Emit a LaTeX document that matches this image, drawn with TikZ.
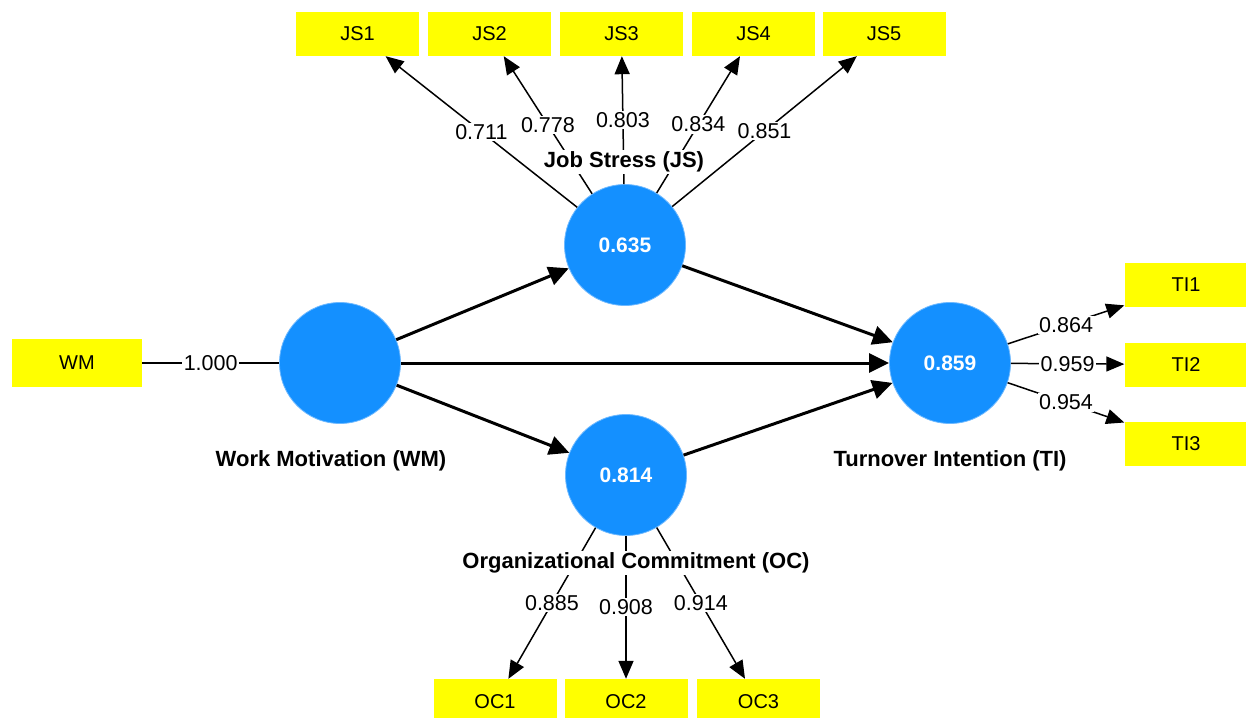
\documentclass[tikz,border=0pt]{standalone}
\usepackage{fontspec}
\setmainfont{Liberation Sans}
\usetikzlibrary{arrows.meta}
\definecolor{lvblue}{RGB}{20,144,255}
\definecolor{lvedge}{RGB}{110,185,255}
\definecolor{indyellow}{RGB}{255,255,0}
\begin{document}
\begin{tikzpicture}[x=1pt,y=-1pt,
  indbox/.style={fill=indyellow, minimum width=123pt, minimum height=44pt, inner sep=0pt, font=\fontsize{20}{22}\selectfont},
  lv/.style={circle, fill=lvblue, draw=lvedge, line width=0.8pt, minimum size=121pt, inner sep=0pt, text=white, font=\bfseries\fontsize{21}{23}\selectfont},
  cname/.style={fill=white, inner sep=1.5pt, font=\bfseries\fontsize{22}{24}\selectfont},
  coef/.style={fill=white, inner sep=1.5pt, font=\fontsize{21.5}{23}\selectfont},
  measpath/.style={line width=1.5pt, -{Triangle[length=18pt,width=15pt]}},
  plainpath/.style={line width=1.5pt},
  structpath/.style={line width=3pt, -{Triangle[length=20pt,width=19pt]}}
]
\useasboundingbox (0,0) rectangle (1246,717);

% latent variables
\node[lv] (WM) at (340,363) {};
\node[lv] (JS) at (625,245) {0.635};
\node[lv] (OC) at (626,475) {0.814};
\node[lv] (TI) at (950,363) {0.859};

% indicators
\node[indbox, minimum width=130pt, minimum height=48pt] (WMi) at (77,363) {WM};
\node[indbox] (JS1) at (357.5,34) {JS1};
\node[indbox] (JS2) at (489.5,34) {JS2};
\node[indbox] (JS3) at (621.5,34) {JS3};
\node[indbox] (JS4) at (753.5,34) {JS4};
\node[indbox] (JS5) at (884,34) {JS5};
\node[indbox] (TI1) at (1186,285) {TI1};
\node[indbox] (TI2) at (1186,364.5) {TI2};
\node[indbox] (TI3) at (1186,443.5) {TI3};
\node[indbox, minimum height=46pt] (OC1) at (495,702) {OC1};
\node[indbox, minimum height=46pt] (OC2) at (626,702) {OC2};
\node[indbox, minimum height=46pt] (OC3) at (758.5,702) {OC3};

% measurement model
\draw[plainpath] (WMi) -- node[coef]{1.000} (WM);
\draw[measpath] (JS) -- node[coef]{0.711} (JS1);
\draw[measpath] (JS) -- node[coef]{0.778} (JS2);
\draw[measpath] (JS) -- node[coef]{0.803} (JS3);
\draw[measpath] (JS) -- node[coef]{0.834} (JS4);
\draw[measpath] (JS) -- node[coef]{0.851} (JS5);
\draw[measpath] (TI) -- node[coef]{0.864} (TI1);
\draw[measpath] (TI) -- node[coef]{0.959} (TI2);
\draw[measpath] (TI) -- node[coef]{0.954} (TI3);
\draw[measpath] (OC) -- node[coef]{0.885} (OC1);
\draw[measpath] (OC) -- node[coef]{0.908} (OC2);
\draw[measpath] (OC) -- node[coef]{0.914} (OC3);

% structural model
\draw[structpath] (WM) -- (JS);
\draw[structpath] (WM) -- (TI);
\draw[structpath] (WM) -- (OC);
\draw[structpath] (JS) -- (TI);
\draw[structpath] (OC) -- (TI);

% construct names
\node[cname] (JSn) at (624,162) {Job Stress (JS)};
\node[cname] (WMn) at (331,461) {Work Motivation (WM)};
\node[cname] (OCn) at (636,563) {Organizational Commitment (OC)};
\node[cname] (TIn) at (950,461) {Turnover Intention (TI)};
\end{tikzpicture}
\end{document}
